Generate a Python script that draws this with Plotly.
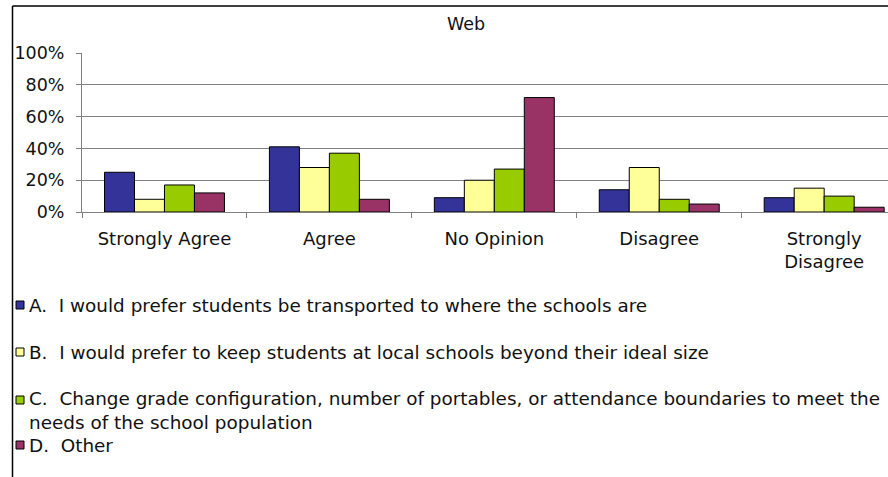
import plotly.graph_objects as go

# Survey responses (share of respondents) per answer, one series per option
categories = ["Strongly Agree", "Agree", "No Opinion", "Disagree", "Strongly<br>Disagree"]
series_names = [
    "A.  I would prefer students be transported to where the schools are",
    "B.  I would prefer to keep students at local schools beyond their ideal size",
    "C.  Change grade configuration, number of portables, or attendance boundaries to meet the<br>needs of the school population",
    "D.  Other",
]
option_a = [0.25, 0.41, 0.09, 0.14, 0.09]
option_b = [0.08, 0.28, 0.20, 0.28, 0.15]
option_c = [0.17, 0.37, 0.27, 0.08, 0.10]
option_d = [0.12, 0.08, 0.72, 0.05, 0.03]
series_values = [option_a, option_b, option_c, option_d]
colors = ["#333399", "#FFFF99", "#99CC00", "#993366"]
y_ticks = [0, 0.2, 0.4, 0.6, 0.8, 1.0]

W, H = 888, 477
L, R, T, B = 82, 0, 53, 265
FONT = "DejaVu Sans, Verdana, sans-serif"
TEXT = "#111111"


def px_x(px):
    return (px - L) / (W - L - R)


def px_y(py):
    return (H - B - py) / (H - T - B)


fig = go.Figure()
for name, vals, col in zip(series_names, series_values, colors):
    fig.add_trace(go.Bar(
        x=categories, y=vals, name=name,
        marker=dict(color=col, line=dict(color="#000000", width=1)),
        showlegend=False,
    ))

# Legend drawn by hand: a small swatch and a left-aligned label per option
legend_rows = [305, 352, 410, 445]
for name, col, cy in zip(series_names, colors, legend_rows):
    first_line = cy if "<br>" not in name else cy - 10
    fig.add_shape(type="rect", xref="paper", yref="paper",
                  x0=px_x(16), x1=px_x(24), y0=px_y(first_line + 4), y1=px_y(first_line - 4),
                  fillcolor=col, line=dict(color="#000000", width=1))
    fig.add_annotation(text=name, xref="paper", yref="paper", x=px_x(27), y=px_y(cy),
                       xanchor="left", yanchor="middle", align="left", showarrow=False,
                       font=dict(family=FONT, size=18.4, color=TEXT))

# Chart frame (left and top edges)
fig.add_shape(type="line", xref="paper", yref="paper",
              x0=px_x(12.5), x1=px_x(12.5), y0=px_y(6), y1=px_y(H + 2),
              line=dict(color="#000000", width=1.5))
fig.add_shape(type="line", xref="paper", yref="paper",
              x0=px_x(12.5), x1=px_x(W + 2), y0=px_y(6), y1=px_y(6),
              line=dict(color="#000000", width=1.5))

fig.update_layout(
    width=W, height=H,
    margin=dict(l=L, r=R, t=T, b=B, pad=0),
    paper_bgcolor="#FFFFFF", plot_bgcolor="#FFFFFF",
    barmode="group", bargap=0.2727, bargroupgap=0,
    font=dict(family=FONT, size=18, color=TEXT),
    title=dict(text="Web", xref="container", yref="container",
               x=466 / W, y=1 - 24 / H, xanchor="center", yanchor="middle",
               font=dict(family=FONT, size=17.5, color=TEXT)),
    xaxis=dict(type="category", range=[-0.5, 4.387], tickson="boundaries",
               ticks="outside", ticklen=5, tickcolor="#808080",
               showline=True, linecolor="#808080", linewidth=1,
               showgrid=False, ticklabelstandoff=10,
               tickfont=dict(family=FONT, size=18, color=TEXT)),
    yaxis=dict(range=[0, 1.0005], tickvals=y_ticks, tickformat=".0%",
               ticks="outside", ticklen=5, tickcolor="#808080",
               showline=True, linecolor="#808080", linewidth=1,
               showgrid=True, gridcolor="#808080", gridwidth=1,
               zeroline=False, ticklabelstandoff=8,
               tickfont=dict(family=FONT, size=17.5, color=TEXT)),
)

fig.write_html("out.html")
